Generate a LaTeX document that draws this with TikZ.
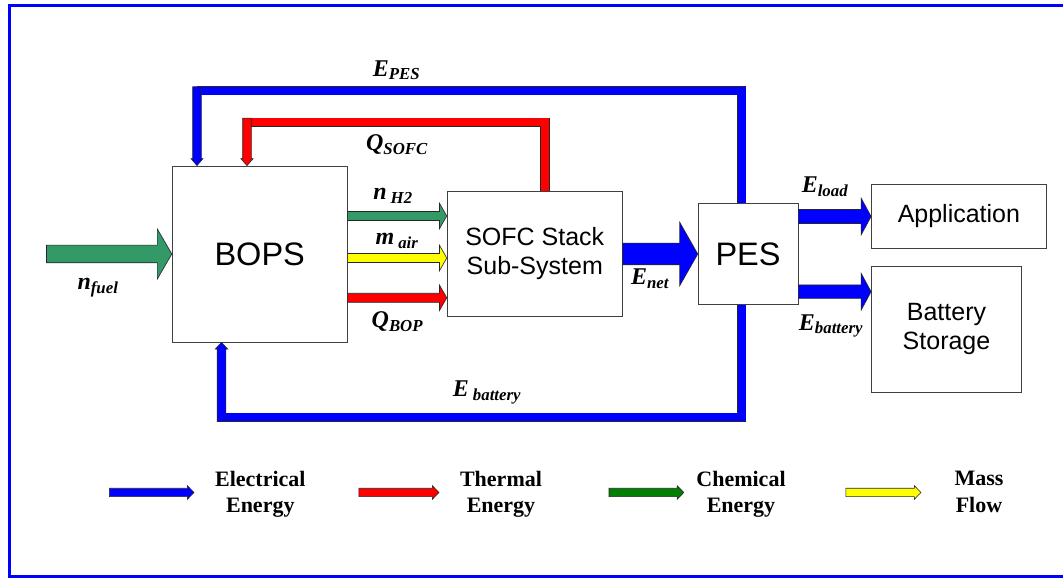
\documentclass[tikz,border=0pt]{standalone}
\usepackage{fontspec}
\setmainfont{Liberation Serif}
\newfontfamily\arialfont{Liberation Sans}
\usepackage{xcolor}
\usepackage{tikz}
\usetikzlibrary{positioning, calc}

\definecolor{elecblue}{RGB}{0,0,255}
\definecolor{thermred}{RGB}{255,0,0}
\definecolor{fuelgreen}{RGB}{51,153,102}
\definecolor{chemgreen}{RGB}{0,128,0}
\definecolor{massyellow}{RGB}{255,255,0}

% block arrow: fill, tail, tip, shaft half width, head half width, head length
\newcommand{\flowarrow}[6]{%
  \coordinate (hb) at ($(#3)!#6!(#2)$);
  \draw[flow, fill=#1] ($(#2)!#4!90:(#3)$) -- ($(hb)!#4!90:(#3)$) -- ($(hb)!#5!90:(#3)$) -- (#3)
    -- ($(hb)!#5!-90:(#3)$) -- ($(hb)!#4!-90:(#3)$) -- ($(#2)!#4!-90:(#3)$) -- cycle;
}

\begin{document}
\begin{tikzpicture}[
    x=1pt, y=1pt,
    box/.style={draw=black!75, line width=0.8pt, fill=white, align=center, inner sep=0pt, font=\arialfont\fontsize{25}{29}\selectfont},
    bigbox/.style={box, font=\arialfont\fontsize{32.5}{38}\selectfont},
    flow/.style={draw=black!85, line width=0.6pt, line join=miter},
    pipe/.style={draw=#1, line width=8pt, preaction={draw=black!85, line width=9.2pt}},
    lab/.style={inner sep=0pt, font=\fontsize{24}{26}\selectfont\bfseries\itshape},
    legend/.style={align=center, inner sep=0pt, anchor=north, font=\fontsize{22}{26.5}\selectfont\bfseries}
]
\useasboundingbox (0,0) rectangle (1063,580);
\clip (0,0) rectangle (1063,580);
\draw[elecblue, line width=2.6pt] (9.3,3.3) rectangle (1080,574.7);

% blocks
\node (bops) [bigbox, minimum width=174.9pt, minimum height=176pt] at (259.7,326) {BOPS};
\node (sofc) [box, minimum width=175.2pt, minimum height=125pt, right=99.2pt of bops] {SOFC Stack\\Sub-System};
\node (pes) [bigbox, minimum width=99.8pt, minimum height=100.8pt, right=75pt of sofc] {PES};
\node (app) [box, minimum width=174.8pt, minimum height=64.5pt] at (958.9,363.5) {Application};
\node (batt) [box, minimum width=150pt, minimum height=125.6pt] at (946.5,250.5) {Battery\\Storage};

% flow end points
\coordinate (fuel-in) at (46.5,326);
\coordinate (h2-out) at (bops.east |- 0,364);
\coordinate (h2-in) at (sofc.west |- 0,364);
\coordinate (air-out) at (bops.east |- 0,322);
\coordinate (air-in) at (sofc.west |- 0,322);
\coordinate (bop-out) at (bops.east |- 0,282.2);
\coordinate (bop-in) at (sofc.west |- 0,282.2);
\coordinate (load-out) at (pes.east |- app.west);
\coordinate (batt-out) at (pes.east |- 0,288.3);
\coordinate (batt-in) at (batt.west |- 0,288.3);

\flowarrow{fuelgreen}{fuel-in}{bops.west}{8.8pt}{25pt}{14.5pt}
\flowarrow{fuelgreen}{h2-out}{h2-in}{4.5pt}{12.8pt}{7.3pt}
\flowarrow{massyellow}{air-out}{air-in}{4.5pt}{12.8pt}{7.3pt}
\flowarrow{thermred}{bop-out}{bop-in}{4.5pt}{12.8pt}{7.3pt}
\flowarrow{elecblue}{sofc.east}{pes.west}{10.8pt}{31.7pt}{18pt}
\flowarrow{elecblue}{load-out}{app.west}{7pt}{18.5pt}{10pt}
\flowarrow{elecblue}{batt-out}{batt-in}{6.7pt}{18.5pt}{10pt}

% feedback loops
\coordinate (pes-top) at (741.7,0 |- pes.north);
\coordinate (pes-bot) at (741.7,0 |- pes.south);
\coordinate (sofc-top) at (545,0 |- sofc.north);
\coordinate (epes-bend) at (197,489.2);
\coordinate (epes-tail) at (197,493.2);
\coordinate (epes-in) at (197,0 |- bops.north);
\coordinate (qsofc-bend) at (247,457.8);
\coordinate (qsofc-tail) at (247,461.8);
\coordinate (qsofc-in) at (247,0 |- bops.north);
\coordinate (ebat-bend) at (221.5,162.5);
\coordinate (ebat-tail) at (221.5,158.5);
\coordinate (ebat-in) at (221.5,0 |- bops.south);

\draw[pipe=elecblue] (pes-top) |- (epes-bend);
\flowarrow{elecblue}{epes-tail}{epes-in}{4.3pt}{6pt}{7pt}
\draw[pipe=thermred] (sofc-top) |- (qsofc-bend);
\flowarrow{thermred}{qsofc-tail}{qsofc-in}{4.3pt}{6.2pt}{7pt}
\draw[pipe=elecblue] (pes-bot) |- (ebat-bend);
\flowarrow{elecblue}{ebat-tail}{ebat-in}{4.3pt}{6.2pt}{6.7pt}

% flow labels
\node (epes-lab) [lab] at (396.5,509.7) {E\textsubscript{PES}};
\node (qsofc-lab) [lab] at (397,435) {Q\textsubscript{SOFC}};
\node (h2-lab) [lab] at (393,384) {n\,\textsubscript{H2}};
\node (air-lab) [lab] at (397,339) {m\,\textsubscript{air}};
\node (bop-lab) [lab] at (397.4,258.5) {Q\textsubscript{BOP}};
\node (fuel-lab) [lab] at (98,292) {n\textsubscript{fuel}};
\node (ebat-lab) [lab] at (487,187.5) {E\,\textsubscript{battery}};
\node (net-lab) [lab] at (650,301.5) {E\textsubscript{net}};
\node (load-lab) [lab] at (825,393.5) {E\textsubscript{load}};
\node (batt-lab) [lab] at (831,254) {E\textsubscript{battery}};

% legend
\coordinate (elec-a) at (109.3,87.5);
\coordinate (elec-b) at (194,87.5);
\coordinate (therm-a) at (358.8,87.5);
\coordinate (therm-b) at (439,87.5);
\coordinate (chem-a) at (609,87.5);
\coordinate (chem-b) at (683.8,87.5);
\coordinate (mass-a) at (845.8,87.5);
\coordinate (mass-b) at (921,87.5);

\flowarrow{elecblue}{elec-a}{elec-b}{4.2pt}{6.8pt}{6.7pt}
\flowarrow{thermred}{therm-a}{therm-b}{4.2pt}{6.8pt}{6.7pt}
\flowarrow{chemgreen}{chem-a}{chem-b}{4.2pt}{6.8pt}{6.7pt}
\flowarrow{massyellow}{mass-a}{mass-b}{4.2pt}{6.8pt}{6.7pt}

\node (elec-leg) [legend] at (260.3,109) {Electrical\\Energy};
\node (therm-leg) [legend] at (501,109) {Thermal\\Energy};
\node (chem-leg) [legend] at (741,109) {Chemical\\Energy};
\node (mass-leg) [legend] at (979,109) {Mass\\Flow};

\end{tikzpicture}
\end{document}
